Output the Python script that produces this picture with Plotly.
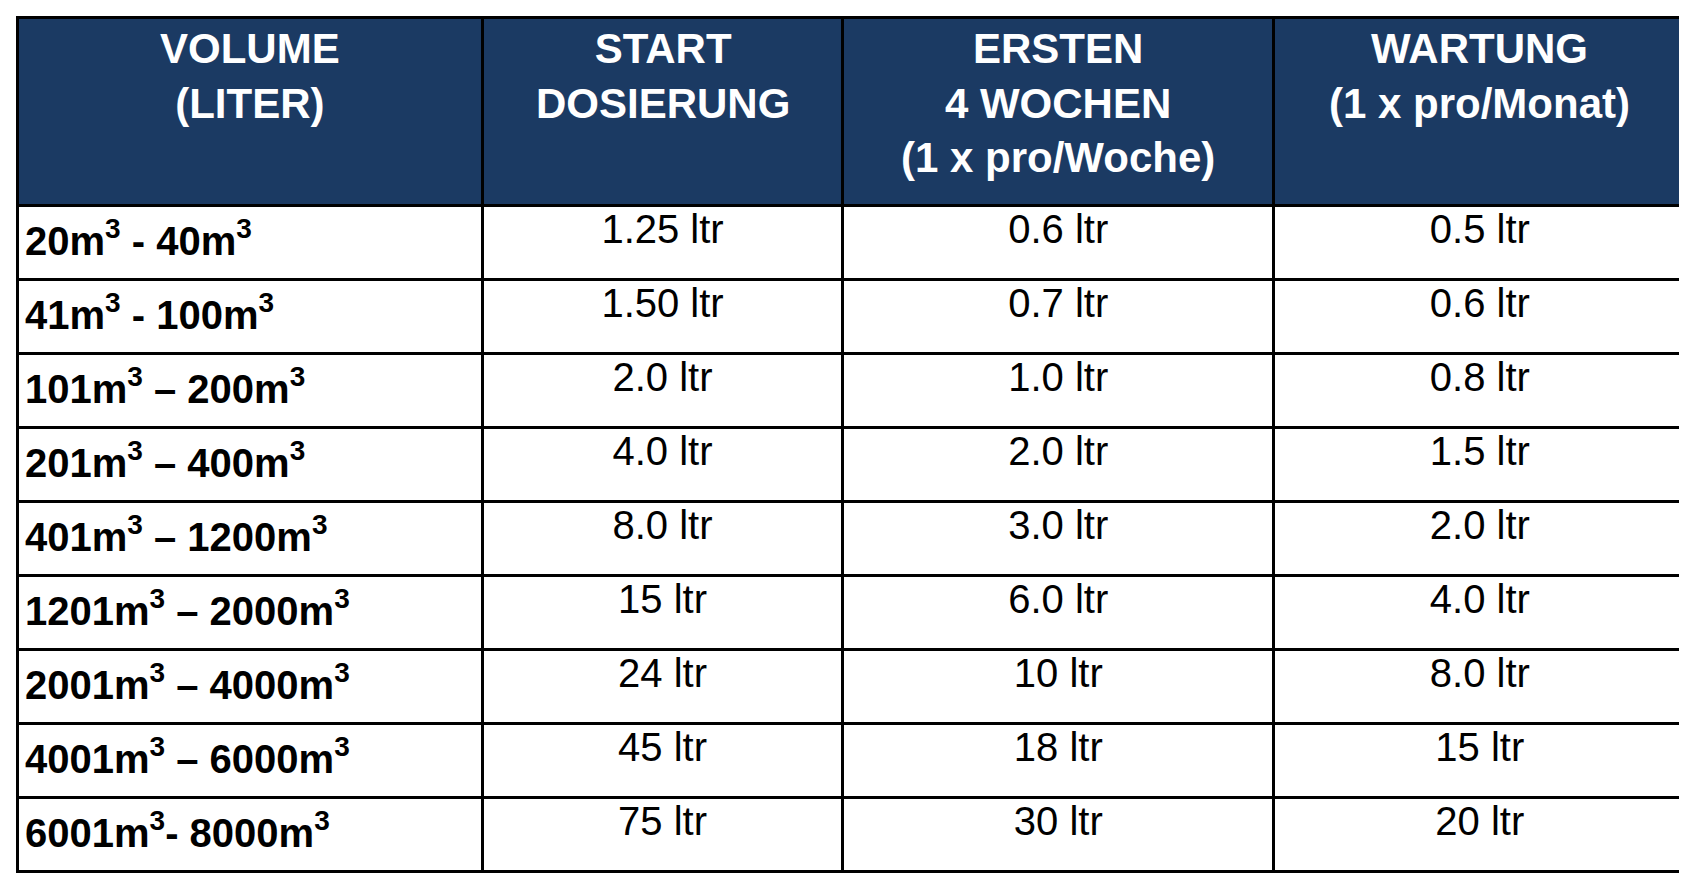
import plotly.graph_objects as go

headers = ["VOLUME<br>(LITER)", "START<br>DOSIERUNG", "ERSTEN<br>4 WOCHEN<br>(1 x pro/Woche)", "WARTUNG<br>(1 x pro/Monat)"]
volume = ["20m<sup>3</sup> - 40m<sup>3</sup>", "41m<sup>3</sup> - 100m<sup>3</sup>", "101m<sup>3</sup> – 200m<sup>3</sup>",
          "201m<sup>3</sup> – 400m<sup>3</sup>", "401m<sup>3</sup> – 1200m<sup>3</sup>", "1201m<sup>3</sup> – 2000m<sup>3</sup>",
          "2001m<sup>3</sup> – 4000m<sup>3</sup>", "4001m<sup>3</sup> – 6000m<sup>3</sup>", "6001m<sup>3</sup>- 8000m<sup>3</sup>"]
start = ["1.25 ltr", "1.50 ltr", "2.0 ltr", "4.0 ltr", "8.0 ltr", "15 ltr", "24 ltr", "45 ltr", "75 ltr"]
erste = ["0.6 ltr", "0.7 ltr", "1.0 ltr", "2.0 ltr", "3.0 ltr", "6.0 ltr", "10 ltr", "18 ltr", "30 ltr"]
wartung = ["0.5 ltr", "0.6 ltr", "0.8 ltr", "1.5 ltr", "2.0 ltr", "4.0 ltr", "8.0 ltr", "15 ltr", "20 ltr"]
widths = [432, 335, 400, 383]

fig = go.Figure(go.Table(
    columnwidth=widths,
    header=dict(values=["", "", "", ""], fill_color="#1b3a63",
                font=dict(family="Liberation Sans, Arial", size=40, color="white"),
                align="center", height=188, line=dict(color="black", width=3)),
    cells=dict(values=[[f"<b>{v}</b>" for v in volume], start, erste, wartung],
               fill_color="white",
               font=dict(family="Liberation Sans, Arial", size=40, color="black"),
               align=["left", "center", "center", "center"], height=74,
               line=dict(color="black", width=3)),
    domain=dict(x=[0, 1], y=[0, 1]),
))
total = sum(widths)
acc = 0
for w, h in zip(widths, headers):
    cx = (acc + w / 2) / total
    acc += w
    fig.add_annotation(x=cx, y=1 - 6 / 858, xref="paper", yref="paper", xanchor="center", yanchor="top",
                       text=f"<b>{h}</b>", showarrow=False, align="center",
                       font=dict(family="Liberation Sans, Arial", size=42, color="white"))
fig.update_layout(width=1687, height=876, margin=dict(l=9, r=9, t=9, b=9),
                  paper_bgcolor="white")
fig.write_html("out.html")
